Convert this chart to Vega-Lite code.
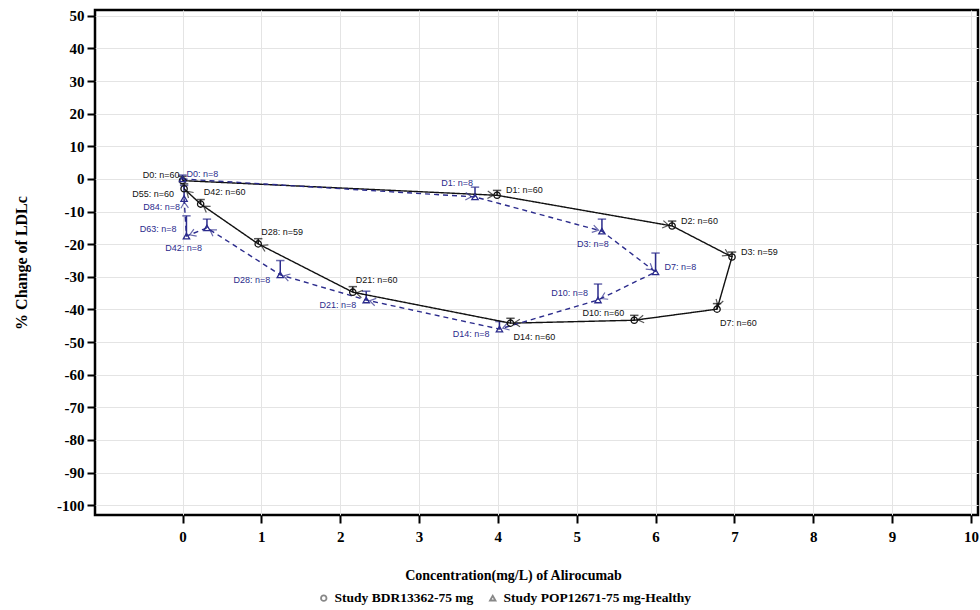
{
  "$schema": "https://vega.github.io/schema/vega-lite/v6.json",
  "width": 883,
  "height": 505,
  "autosize": {"type": "none"},
  "padding": {"left": 95, "top": 10, "right": 2, "bottom": 95},
  "background": "white",
  "config": {
    "view": {"stroke": "#000000", "strokeWidth": 2.5},
    "axis": {
      "domain": false,
      "grid": true,
      "gridColor": "#e4e4e4",
      "gridWidth": 1,
      "tickColor": "#000000",
      "tickWidth": 2,
      "tickSize": 8,
      "labelFont": "Liberation Serif",
      "labelFontWeight": "bold",
      "labelFontSize": 15,
      "labelColor": "#000000",
      "titleFont": "Liberation Serif",
      "titleFontWeight": "bold",
      "titleFontSize": 14,
      "titleColor": "#000000"
    },
    "legend": {
      "orient": "none",
      "legendX": 222,
      "legendY": 581,
      "direction": "horizontal",
      "labelFont": "Liberation Serif",
      "labelFontWeight": "bold",
      "labelFontSize": 13.5,
      "labelColor": "#000000",
      "labelLimit": 0,
      "symbolSize": 30,
      "symbolStrokeWidth": 1.8,
      "symbolOpacity": 1,
      "columnPadding": 12
    },
    "range": {
      "category": ["#111111", "#2b2b8c"]
    }
  },
  "datasets": {
    "pts": [
      {"study": "Study BDR13362-75 mg", "ord": 1, "day": "D0", "label": "D0: n=60", "conc": 0.0, "pct": -0.5, "hi": 0.8},
      {"study": "Study BDR13362-75 mg", "ord": 2, "day": "D1", "label": "D1: n=60", "conc": 3.99, "pct": -5.0, "hi": -3.5},
      {"study": "Study BDR13362-75 mg", "ord": 3, "day": "D2", "label": "D2: n=60", "conc": 6.21, "pct": -14.4, "hi": -12.9},
      {"study": "Study BDR13362-75 mg", "ord": 4, "day": "D3", "label": "D3: n=59", "conc": 6.97, "pct": -23.9, "hi": -22.4},
      {"study": "Study BDR13362-75 mg", "ord": 5, "day": "D7", "label": "D7: n=60", "conc": 6.78, "pct": -39.9, "hi": -38.2},
      {"study": "Study BDR13362-75 mg", "ord": 6, "day": "D10", "label": "D10: n=60", "conc": 5.73, "pct": -43.3, "hi": -41.8},
      {"study": "Study BDR13362-75 mg", "ord": 7, "day": "D14", "label": "D14: n=60", "conc": 4.16, "pct": -44.2, "hi": -42.7},
      {"study": "Study BDR13362-75 mg", "ord": 8, "day": "D21", "label": "D21: n=60", "conc": 2.16, "pct": -34.7, "hi": -33.0},
      {"study": "Study BDR13362-75 mg", "ord": 9, "day": "D28", "label": "D28: n=59", "conc": 0.96, "pct": -19.9, "hi": -18.3},
      {"study": "Study BDR13362-75 mg", "ord": 10, "day": "D42", "label": "D42: n=60", "conc": 0.23, "pct": -7.7, "hi": -6.3},
      {"study": "Study BDR13362-75 mg", "ord": 11, "day": "D55", "label": "D55: n=60", "conc": 0.02, "pct": -3.0, "hi": -1.5},
      {"study": "Study POP12671-75 mg-Healthy", "ord": 1, "day": "D0", "label": "D0: n=8", "conc": 0.0, "pct": 0.0, "hi": 1.2},
      {"study": "Study POP12671-75 mg-Healthy", "ord": 2, "day": "D1", "label": "D1: n=8", "conc": 3.71, "pct": -5.5, "hi": -2.5},
      {"study": "Study POP12671-75 mg-Healthy", "ord": 3, "day": "D3", "label": "D3: n=8", "conc": 5.32, "pct": -16.0, "hi": -12.3},
      {"study": "Study POP12671-75 mg-Healthy", "ord": 4, "day": "D7", "label": "D7: n=8", "conc": 6.0, "pct": -28.5, "hi": -22.7},
      {"study": "Study POP12671-75 mg-Healthy", "ord": 5, "day": "D10", "label": "D10: n=8", "conc": 5.27, "pct": -37.1, "hi": -32.2},
      {"study": "Study POP12671-75 mg-Healthy", "ord": 6, "day": "D14", "label": "D14: n=8", "conc": 4.02, "pct": -46.0, "hi": -43.7},
      {"study": "Study POP12671-75 mg-Healthy", "ord": 7, "day": "D21", "label": "D21: n=8", "conc": 2.33, "pct": -37.1, "hi": -34.4},
      {"study": "Study POP12671-75 mg-Healthy", "ord": 8, "day": "D28", "label": "D28: n=8", "conc": 1.24, "pct": -29.4, "hi": -25.0},
      {"study": "Study POP12671-75 mg-Healthy", "ord": 9, "day": "D42", "label": "D42: n=8", "conc": 0.31, "pct": -15.0, "hi": -12.3},
      {"study": "Study POP12671-75 mg-Healthy", "ord": 10, "day": "D63", "label": "D63: n=8", "conc": 0.05, "pct": -17.5, "hi": -11.3},
      {"study": "Study POP12671-75 mg-Healthy", "ord": 11, "day": "D84", "label": "D84: n=8", "conc": 0.02, "pct": -6.0, "hi": -2.0}
    ]
  },
  "data": {"name": "pts"},
  "encoding": {
    "x": {
      "field": "conc",
      "type": "quantitative",
      "scale": {"domain": [-1.11, 10.09], "nice": false, "zero": false},
      "axis": {
        "values": [0, 1, 2, 3, 4, 5, 6, 7, 8, 9, 10],
        "title": "Concentration(mg/L) of Alirocumab",
        "labelPadding": 6,
        "titlePadding": 24,
        "titleX": 418
      }
    },
    "y": {
      "field": "pct",
      "type": "quantitative",
      "scale": {"domain": [-103, 51.8], "nice": false, "zero": false},
      "axis": {
        "values": [50, 40, 30, 20, 10, 0, -10, -20, -30, -40, -50, -60, -70, -80, -90, -100],
        "labelExpr": "replace(datum.label, '\u2212', '-')",
        "title": "% Change of LDLc",
        "titleFontSize": 16,
        "labelPadding": 3,
        "titlePadding": 27
      }
    }
  },
  "layer": [
    {
      "mark": {"type": "rule", "strokeWidth": 1.5},
      "encoding": {
        "y2": {"field": "hi"},
        "color": {"field": "study", "type": "nominal", "legend": null}
      }
    },
    {
      "mark": {"type": "point", "shape": "stroke", "size": 70, "strokeWidth": 1.5, "filled": false},
      "encoding": {
        "y": {"field": "hi", "type": "quantitative"},
        "color": {"field": "study", "type": "nominal", "legend": null}
      }
    },
    {
      "mark": {"type": "line", "strokeWidth": 1.4},
      "encoding": {
        "order": {"field": "ord", "type": "quantitative"},
        "color": {"field": "study", "type": "nominal", "legend": null},
        "strokeDash": {
          "field": "study",
          "type": "nominal",
          "scale": {"range": [[1, 0], [5, 4]]},
          "legend": null
        }
      }
    },
    {
      "transform": [
        {
          "window": [
            {"op": "lag", "field": "conc", "as": "prevConc"},
            {"op": "lag", "field": "pct", "as": "prevPct"}
          ],
          "groupby": ["study"],
          "sort": [{"field": "ord"}]
        },
        {"filter": "datum.prevConc != null"},
        {"calculate": "atan2(-(datum.pct - datum.prevPct) * 3.262, (datum.conc - datum.prevConc) * 78.84) * 180 / PI", "as": "heading"}
      ],
      "mark": {
        "type": "point",
        "shape": "M-1.9,-0.75L-0.7,0L-1.9,0.75",
        "size": 100,
        "filled": false,
        "strokeWidth": 1.2
      },
      "encoding": {
        "angle": {"field": "heading", "type": "quantitative", "scale": null},
        "color": {"field": "study", "type": "nominal", "legend": null}
      }
    },
    {
      "mark": {"type": "point", "filled": false, "size": 40, "strokeWidth": 1.3, "opacity": 1},
      "encoding": {
        "color": {"field": "study", "type": "nominal", "legend": {"title": null}},
        "shape": {
          "field": "study",
          "type": "nominal",
          "scale": {"range": ["circle", "triangle-up"]},
          "legend": {"title": null}
        }
      }
    },
    {
      "transform": [{"filter": {"field": "label", "oneOf": ["D1: n=60", "D2: n=60", "D3: n=59", "D7: n=8"]}}],
      "mark": {"type": "text", "align": "left", "baseline": "middle", "dx": 9, "dy": -5, "fontSize": 9, "font": "Liberation Sans"},
      "encoding": {"text": {"field": "label"}, "color": {"field": "study", "type": "nominal", "legend": null}}
    },
    {
      "transform": [{"filter": {"field": "label", "oneOf": ["D0: n=8"]}}],
      "mark": {"type": "text", "align": "left", "baseline": "middle", "dx": 4, "dy": -5, "fontSize": 9, "font": "Liberation Sans"},
      "encoding": {"text": {"field": "label"}, "color": {"field": "study", "type": "nominal", "legend": null}}
    },
    {
      "transform": [{"filter": {"field": "label", "oneOf": ["D21: n=60", "D28: n=59", "D42: n=60"]}}],
      "mark": {"type": "text", "align": "left", "baseline": "middle", "dx": 3, "dy": -12, "fontSize": 9, "font": "Liberation Sans"},
      "encoding": {"text": {"field": "label"}, "color": {"field": "study", "type": "nominal", "legend": null}}
    },
    {
      "transform": [{"filter": {"field": "label", "oneOf": ["D7: n=60", "D14: n=60"]}}],
      "mark": {"type": "text", "align": "left", "baseline": "middle", "dx": 3, "dy": 14, "fontSize": 9, "font": "Liberation Sans"},
      "encoding": {"text": {"field": "label"}, "color": {"field": "study", "type": "nominal", "legend": null}}
    },
    {
      "transform": [{"filter": {"field": "label", "oneOf": ["D10: n=60", "D10: n=8", "D63: n=8"]}}],
      "mark": {"type": "text", "align": "right", "baseline": "middle", "dx": -10, "dy": -7, "fontSize": 9, "font": "Liberation Sans"},
      "encoding": {"text": {"field": "label"}, "color": {"field": "study", "type": "nominal", "legend": null}}
    },
    {
      "transform": [{"filter": {"field": "label", "oneOf": ["D0: n=60"]}}],
      "mark": {"type": "text", "align": "right", "baseline": "middle", "dx": -3, "dy": -6, "fontSize": 9, "font": "Liberation Sans"},
      "encoding": {"text": {"field": "label"}, "color": {"field": "study", "type": "nominal", "legend": null}}
    },
    {
      "transform": [{"filter": {"field": "label", "oneOf": ["D14: n=8", "D21: n=8", "D28: n=8", "D55: n=60"]}}],
      "mark": {"type": "text", "align": "right", "baseline": "middle", "dx": -10, "dy": 5, "fontSize": 9, "font": "Liberation Sans"},
      "encoding": {"text": {"field": "label"}, "color": {"field": "study", "type": "nominal", "legend": null}}
    },
    {
      "transform": [{"filter": {"field": "label", "oneOf": ["D84: n=8"]}}],
      "mark": {"type": "text", "align": "right", "baseline": "middle", "dx": -4, "dy": 8, "fontSize": 9, "font": "Liberation Sans"},
      "encoding": {"text": {"field": "label"}, "color": {"field": "study", "type": "nominal", "legend": null}}
    },
    {
      "transform": [{"filter": {"field": "label", "oneOf": ["D3: n=8"]}}],
      "mark": {"type": "text", "align": "center", "baseline": "middle", "dx": -9, "dy": 13, "fontSize": 9, "font": "Liberation Sans"},
      "encoding": {"text": {"field": "label"}, "color": {"field": "study", "type": "nominal", "legend": null}}
    },
    {
      "transform": [{"filter": {"field": "label", "oneOf": ["D42: n=8"]}}],
      "mark": {"type": "text", "align": "right", "baseline": "middle", "dx": -5, "dy": 20, "fontSize": 9, "font": "Liberation Sans"},
      "encoding": {"text": {"field": "label"}, "color": {"field": "study", "type": "nominal", "legend": null}}
    },
    {
      "transform": [{"filter": {"field": "label", "oneOf": ["D1: n=8"]}}],
      "mark": {"type": "text", "align": "right", "baseline": "middle", "dx": -2, "dy": -14, "fontSize": 9, "font": "Liberation Sans"},
      "encoding": {"text": {"field": "label"}, "color": {"field": "study", "type": "nominal", "legend": null}}
    }
  ]
}
